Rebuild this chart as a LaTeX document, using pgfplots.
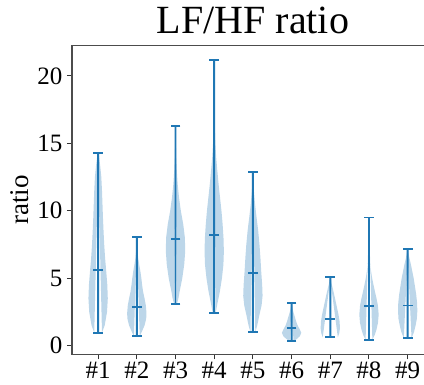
\documentclass[border=0pt]{standalone}
\usepackage{pgfplots}
\pgfplotsset{compat=1.18}
\usepackage{pgfplotstable}
\usepgfplotslibrary{fillbetween}
\usepackage{fontspec}
\setmainfont{Liberation Serif}

\definecolor{c0}{RGB}{31,119,180}
\definecolor{body}{RGB}{188,214,233}

% summary lines of each violin: position, minimum, centre line, maximum
\pgfplotstableread{
pos min center max
1 0.96 5.60 14.30
2 0.69 2.88 8.04
3 3.10 7.91 16.27
4 2.42 8.20 21.15
5 0.99 5.37 12.90
6 0.34 1.33 3.15
7 0.62 2.00 5.08
8 0.44 2.93 9.50
9 0.56 2.98 7.15
}\stats

% density profiles (w = relative half width, max 1), from minimum to maximum
\pgfplotstableread{
y w
0.96 0.40
1.5 0.68
2.5 0.92
3.5 1.00
4.5 0.95
5.5 0.84
6.5 0.72
7.5 0.63
8.5 0.56
9.5 0.50
10.5 0.45
11.5 0.40
12.5 0.33
13.3 0.22
14.0 0.10
14.3 0.04
}\vA
\pgfplotstableread{
y w
0.69 0.30
1.0 0.50
1.5 0.80
2.0 0.97
2.4 1.00
3.0 0.93
3.5 0.80
4.0 0.65
4.5 0.55
5.0 0.47
5.5 0.37
6.0 0.25
6.5 0.14
7.0 0.07
7.5 0.04
8.04 0.02
}\vB
\pgfplotstableread{
y w
3.1 0.15
3.5 0.30
4.0 0.42
5.0 0.70
6.0 0.90
7.0 1.00
8.0 0.97
9.0 0.80
10.0 0.55
11.0 0.36
12.0 0.22
13.0 0.13
14.0 0.07
15.0 0.04
16.27 0.02
}\vC
\pgfplotstableread{
y w
2.42 0.15
3.0 0.30
4.0 0.58
5.0 0.80
6.0 0.95
7.0 1.00
8.0 0.96
9.0 0.87
10.0 0.75
11.0 0.60
12.0 0.45
13.0 0.32
14.0 0.20
15.0 0.12
16.0 0.07
17.5 0.04
19.0 0.02
21.15 0.01
}\vD
\pgfplotstableread{
y w
0.99 0.25
1.5 0.45
2.2 0.65
3.0 0.90
3.7 1.00
4.5 0.96
5.5 0.86
6.5 0.78
7.5 0.68
8.5 0.55
9.5 0.38
10.5 0.22
11.5 0.10
12.2 0.05
12.9 0.02
}\vE
\pgfplotstableread{
y w
0.34 0.20
0.5 0.55
0.7 0.85
0.95 1.00
1.2 0.85
1.5 0.62
1.8 0.47
2.1 0.35
2.4 0.22
2.7 0.12
3.0 0.05
3.15 0.02
}\vF
\pgfplotstableread{
y w
0.62 0.78
0.9 0.92
1.3 1.00
1.8 0.96
2.3 0.85
2.8 0.70
3.3 0.55
3.8 0.40
4.2 0.27
4.6 0.13
5.08 0.03
}\vG
\pgfplotstableread{
y w
0.44 0.35
0.8 0.60
1.2 0.78
1.7 0.93
2.3 1.00
3.0 0.92
3.5 0.78
4.0 0.62
4.5 0.47
5.0 0.33
5.5 0.22
6.0 0.14
6.5 0.09
7.0 0.06
8.0 0.03
9.5 0.01
}\vH
\pgfplotstableread{
y w
0.56 0.40
1.0 0.65
1.5 0.82
2.0 0.95
2.6 1.00
3.2 0.97
3.8 0.88
4.4 0.75
5.0 0.62
5.5 0.48
6.0 0.34
6.5 0.18
6.9 0.08
7.15 0.03
}\vI

% one violin at position #1 from profile table #2:
% body, then a narrow filled stem from minimum to maximum
\newcommand{\violin}[2]{%
  \addplot[draw=none, forget plot, name path=R#1]
    table[x expr=#1+0.25*\thisrow{w}, y=y]{#2};
  \addplot[draw=none, forget plot, name path=L#1]
    table[x expr=#1-0.25*\thisrow{w}, y=y]{#2};
  \addplot[fill=body, draw=none, forget plot] fill between[of=R#1 and L#1];
  \addplot[draw=none, forget plot, name path=SR#1]
    table[x expr=#1+0.025, y=y]{#2};
  \addplot[draw=none, forget plot, name path=SL#1]
    table[x expr=#1-0.025, y=y]{#2};
  \addplot[fill=c0, draw=none, forget plot] fill between[of=SR#1 and SL#1];
}

\begin{document}
\begin{tikzpicture}
\begin{axis}[
  name=ax,
  scale only axis,
  width=361.8pt, height=308.6pt,
  xmin=0.325, xmax=9.675,
  ymin=-0.64, ymax=22.24,
  xtick={1,...,9},
  xticklabels={\#1,\#2,\#3,\#4,\#5,\#6,\#7,\#8,\#9},
  ytick={0,5,10,15,20},
  tick align=outside,
  major tick length=5pt,
  tick style={black!80, line width=1pt},
  xtick pos=bottom, ytick pos=left,
  axis line style={black!70, line width=1.3pt},
  /pgf/number format/assume math mode=true,
  ticklabel style={font=\fontsize{25}{30}\selectfont},
  yticklabel style={xshift=-1pt},
  xticklabel style={yshift=1pt},
  title={LF/HF ratio},
  title style={font=\fontsize{40}{46}\selectfont, at={(axis description cs:0.5,1)}, anchor=base, yshift=6pt},
  ylabel={ratio},
  every axis y label/.style={at={(axis description cs:-0.144,0.5)}, rotate=90, anchor=center, font=\fontsize{27}{32}\selectfont},
  cap/.style={c0, only marks, mark=-, mark size=4.84pt, mark options={line width=1.8pt}, forget plot},
]
\violin{1}{\vA}
\violin{2}{\vB}
\violin{3}{\vC}
\violin{4}{\vD}
\violin{5}{\vE}
\violin{6}{\vF}
\violin{7}{\vG}
\violin{8}{\vH}
\violin{9}{\vI}
\addplot[cap] table[x=pos, y=min]{\stats};
\addplot[cap] table[x=pos, y=center]{\stats};
\addplot[cap] table[x=pos, y=max]{\stats};
\end{axis}
\pgfresetboundingbox
\path[use as bounding box] ([shift={(-72pt,-30.7pt)}]ax.south west) rectangle ([shift={(352pt,354.3pt)}]ax.south west);
\end{tikzpicture}
\end{document}
